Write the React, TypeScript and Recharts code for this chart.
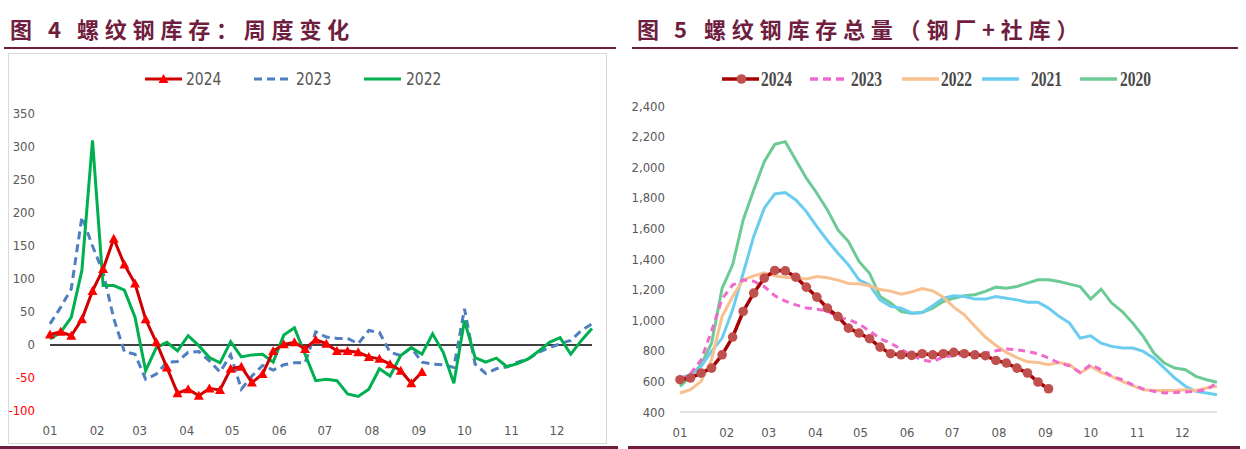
import { LineChart, Line, XAxis, YAxis, ReferenceLine } from 'recharts';

const monthLabels = ['01', '02', '03', '04', '05', '06', '07', '08', '09', '10', '11', '12'];
// week index where each month starts
const monthTicks = [0, 4.43, 8.43, 12.86, 17.14, 21.57, 25.86, 30.29, 34.71, 39, 43.43, 47.71];

// 图4 weekly change
const chg2024 = [16, 20, 14, 39, 82, 115, 161, 122, 93, 39, 4, -34, -73, -67, -77, -66, -68, -36, -33, -57, -44, -9, 1, 4, -6, 8, 2, -9, -9, -11, -18, -21, -29, -39, -58, -41];
const chg2023 = [32, 57, 85, 194, 150, 110, 40, -10, -14, -52, -44, -26, -25, -11, -10, -24, -41, -15, -67, -47, -31, -38, -30, -27, -27, 20, 12, 10, 10, 2, 22, 19, -11, -16, -4, -26, -29, -30, -34, 55, -29, -43, -36, -33, -26, -21, -11, -4, 2, 7, 22, 32];
const chg2022 = [9, 19, 42, 113, 310, 90, 90, 83, 42, -39, -4, 4, -9, 14, -1, -19, -27, 5, -18, -15, -14, -26, 15, 26, -14, -54, -52, -54, -74, -78, -67, -36, -47, -16, -4, -14, 17, -11, -58, 37, -19, -26, -20, -33, -28, -21, -9, 4, 11, -14, 7, 25];

// 图5 total stock
const stock2024 = [611, 622, 655, 687, 774, 890, 1057, 1177, 1275, 1325, 1323, 1281, 1216, 1151, 1079, 1024, 948, 916, 879, 824, 781, 774, 770, 781, 774, 781, 790, 781, 774, 768, 737, 720, 687, 655, 596, 552];
const stock2023 = [611, 650, 740, 930, 1140, 1230, 1262, 1255, 1220, 1160, 1125, 1100, 1080, 1072, 1060, 1020, 1005, 975, 930, 880, 850, 810, 770, 740, 728, 760, 768, 774, 781, 785, 800, 811, 807, 796, 781, 752, 720, 702, 659, 709, 676, 633, 611, 578, 550, 535, 524, 528, 530, 535, 546, 589];
const stock2022 = [524, 546, 600, 742, 1025, 1155, 1264, 1290, 1310, 1290, 1280, 1275, 1270, 1285, 1278, 1262, 1240, 1238, 1225, 1200, 1190, 1170, 1185, 1207, 1192, 1150, 1085, 1035, 960, 890, 835, 790, 755, 728, 724, 709, 724, 709, 655, 698, 659, 633, 600, 572, 546, 541, 541, 541, 546, 541, 557, 568];
const stock2021 = [622, 643, 698, 796, 883, 1068, 1307, 1547, 1732, 1825, 1834, 1786, 1710, 1612, 1521, 1438, 1362, 1264, 1231, 1133, 1090, 1079, 1046, 1050, 1095, 1144, 1160, 1155, 1138, 1138, 1155, 1144, 1133, 1118, 1118, 1079, 1025, 981, 883, 898, 850, 829, 818, 818, 796, 752, 687, 622, 568, 535, 524, 513];
const stock2020 = [568, 633, 709, 850, 1209, 1362, 1655, 1851, 2036, 2149, 2167, 2047, 1928, 1830, 1721, 1590, 1514, 1384, 1307, 1155, 1112, 1057, 1046, 1050, 1079, 1122, 1144, 1160, 1166, 1188, 1216, 1209, 1220, 1242, 1264, 1264, 1253, 1236, 1220, 1138, 1203, 1112, 1057, 981, 894, 785, 720, 687, 676, 633, 611, 594];

const leftTicks = [-100, -50, 0, 50, 100, 150, 200, 250, 300, 350];
const rightTicks = [400, 600, 800, 1000, 1200, 1400, 1600, 1800, 2000, 2200, 2400];

const leftRows = chg2023.map((_, i) => ({
  w: i,
  y2024: chg2024[i] ?? null,
  y2023: chg2023[i],
  y2022: chg2022[i],
}));

const rightRows = stock2023.map((_, i) => ({
  w: i,
  y2024: stock2024[i] ?? null,
  y2023: stock2023[i],
  y2022: stock2022[i],
  y2021: stock2021[i],
  y2020: stock2020[i],
}));

const MAROON = '#6f1e40';
const SANS = '"Liberation Sans Narrow", "DejaVu Sans Condensed", Roboto, sans-serif';
const SERIF = '"Liberation Serif", "DejaVu Serif", serif';
const CJK = '"Noto Sans CJK SC", sans-serif';

const monthFmt = (v: number) => monthLabels[monthTicks.indexOf(v)] ?? '';

function Triangle(props: any) {
  const { cx, cy, index } = props;
  if (cx == null || cy == null) return <g key={index} />;
  return <path key={index} d={`M${cx},${cy - 5} L${cx + 5},${cy + 4} L${cx - 5},${cy + 4} Z`} fill="#ff0000" />;
}

function LeftYTick(props: any) {
  const { x, y, payload } = props;
  return (
    <text x={x} y={y} dy={4} textAnchor="end" fontSize={13} fontFamily={SANS} fill={payload.value < 0 ? '#ff0000' : '#595959'}>
      {payload.value}
    </text>
  );
}

// title: figure label, number, then letter-spaced caption
function Title({ fig, num, caption, figX, numX, capX, lineX, lineW }: {
  fig: string; num: string; caption: string; figX: number; numX: number; capX: number; lineX: number; lineW: number;
}) {
  const txt = { position: 'absolute' as const, top: 13, whiteSpace: 'pre' as const, fontFamily: CJK, fontWeight: 700, fontSize: 22, color: MAROON, lineHeight: '30px' };
  return (
    <>
      <div style={{ ...txt, left: figX }}>{fig}</div>
      <div style={{ ...txt, left: numX }}>{num}</div>
      <div style={{ ...txt, left: capX, letterSpacing: '5.8px' }}>{caption}</div>
      <div style={{ position: 'absolute', left: lineX, top: 46.5, width: lineW, height: 2.5, background: MAROON }} />
      <div style={{ position: 'absolute', left: lineX - 4, top: 446, width: lineW + 6, height: 3, background: MAROON }} />
    </>
  );
}

type LegendItem = { label: string; color: string; lineX: number; textX: number; dash?: string; marker?: 'tri' | 'dot' };

function LegendBar({ items, cy, font, size, color, weight, scale, lineW }: {
  items: LegendItem[]; cy: number; font: string; size: number; color: string; weight: number; scale: number; lineW: number;
}) {
  return (
    <>
      {items.map((it) => (
        <div key={it.label}>
          <svg width={37} height={14} style={{ position: 'absolute', left: it.lineX, top: cy - 7 }}>
            <line x1={0} y1={7} x2={37} y2={7} stroke={it.color} strokeWidth={lineW} strokeDasharray={it.dash} />
            {it.marker === 'tri' && <path d="M18.5,2 L23.5,11 L13.5,11 Z" fill="#ff0000" />}
            {it.marker === 'dot' && <circle cx={19.5} cy={7} r={4.8} fill="#c0504d" />}
          </svg>
          <span
            style={{
              position: 'absolute', left: it.textX, top: cy - 12, lineHeight: '24px', display: 'inline-block',
              fontFamily: font, fontSize: size, color, fontWeight: weight,
              transform: `scaleX(${scale})`, transformOrigin: 'left center', whiteSpace: 'nowrap',
            }}
          >
            {it.label}
          </span>
        </div>
      ))}
    </>
  );
}

function WeeklyChange() {
  return (
    <div style={{ position: 'absolute', left: 0, top: 0, width: 615, height: 449 }}>
      <Title fig="图" num="4" caption="螺纹钢库存：周度变化" figX={10} numX={48} capX={77} lineX={4} lineW={612} />
      <div style={{ position: 'absolute', left: 8, top: 53, width: 599, height: 391, border: '1px solid #d9d9d9', boxSizing: 'border-box' }} />
      <LegendBar
        cy={79}
        font={SANS}
        size={18}
        color="#595959"
        weight={400}
        scale={0.86}
        lineW={3}
        items={[
          { label: '2024', color: '#d00000', marker: 'tri', lineX: 145, textX: 186 },
          { label: '2023', color: '#4f7fc0', dash: '8 5', lineX: 254, textX: 296 },
          { label: '2022', color: '#00b050', lineX: 364, textX: 406 },
        ]}
      />
      <div style={{ position: 'absolute', left: 0, top: 0 }}>
        <LineChart width={615} height={449} data={leftRows} margin={{ top: 114, right: 23, bottom: 13, left: 10 }}>
          <XAxis
            dataKey="w"
            type="number"
            domain={[0, 51]}
            ticks={monthTicks}
            tickFormatter={monthFmt}
            axisLine={false}
            tickLine={false}
            tickSize={0}
            tickMargin={15}
            height={25}
            tick={{ fontSize: 13, fontFamily: SANS, fill: '#595959' }}
          />
          <YAxis
            domain={[-100, 350]}
            ticks={leftTicks}
            axisLine={false}
            tickLine={false}
            tickSize={0}
            tickMargin={15}
            width={40}
            tick={<LeftYTick />}
          />
          <ReferenceLine y={0} stroke="#000" strokeWidth={1.5} />
          <Line dataKey="y2023" stroke="#4f7fc0" strokeWidth={3} strokeDasharray="8 5" dot={false} isAnimationActive={false} />
          <Line dataKey="y2022" stroke="#00b050" strokeWidth={3} dot={false} isAnimationActive={false} />
          <Line dataKey="y2024" stroke="#d00000" strokeWidth={3} dot={<Triangle />} isAnimationActive={false} />
        </LineChart>
      </div>
    </div>
  );
}

function TotalStock() {
  return (
    <div style={{ position: 'absolute', left: 615, top: 0, width: 631, height: 449 }}>
      <Title fig="图" num="5" caption="螺纹钢库存总量（钢厂+社库）" figX={22} numX={59} capX={89} lineX={17} lineW={606} />
      <LegendBar
        cy={79}
        font={SERIF}
        size={21}
        color="#4a4a4a"
        weight={700}
        scale={0.74}
        lineW={3.5}
        items={[
          { label: '2024', color: '#a80000', marker: 'dot', lineX: 107, textX: 146 },
          { label: '2023', color: '#f06acd', dash: '8 5', lineX: 195, textX: 236 },
          { label: '2022', color: '#f8c08f', lineX: 287, textX: 326 },
          { label: '2021', color: '#6acdf0', lineX: 367, textX: 416 },
          { label: '2020', color: '#6ccb94', lineX: 465, textX: 505 },
        ]}
      />
      <div style={{ position: 'absolute', left: 0, top: 0 }}>
        <LineChart width={631} height={449} data={rightRows} margin={{ top: 106, right: 29, bottom: 12, left: 25 }}>
          <XAxis
            dataKey="w"
            type="number"
            domain={[0, 51]}
            ticks={monthTicks}
            tickFormatter={monthFmt}
            axisLine={{ stroke: '#d9d9d9', strokeWidth: 1.5 }}
            tickLine={false}
            tickSize={0}
            tickMargin={16}
            height={25}
            tick={{ fontSize: 13, fontFamily: SANS, fill: '#595959' }}
          />
          <YAxis
            domain={[400, 2400]}
            ticks={rightTicks}
            axisLine={false}
            tickLine={false}
            tickSize={0}
            tickMargin={15}
            width={40}
            tickFormatter={(v: number) => v.toLocaleString('en-US')}
            tick={{ fontSize: 13, fontFamily: SANS, fill: '#595959' }}
          />
          <Line dataKey="y2020" stroke="#6ccb94" strokeWidth={3} dot={false} isAnimationActive={false} />
          <Line dataKey="y2021" stroke="#6acdf0" strokeWidth={3} dot={false} isAnimationActive={false} />
          <Line dataKey="y2022" stroke="#f8c08f" strokeWidth={3} dot={false} isAnimationActive={false} />
          <Line dataKey="y2023" stroke="#f06acd" strokeWidth={3} strokeDasharray="7 5" dot={false} isAnimationActive={false} />
          <Line
            dataKey="y2024"
            stroke="#a80000"
            strokeWidth={3.5}
            dot={{ r: 4.8, fill: '#c0504d', stroke: 'none' }}
            isAnimationActive={false}
          />
        </LineChart>
      </div>
    </div>
  );
}

export default function App() {
  return (
    <div style={{ position: 'absolute', left: 0, top: 0, width: 1246, height: 449, background: '#fff', overflow: 'hidden' }}>
      <WeeklyChange />
      <TotalStock />
    </div>
  );
}
